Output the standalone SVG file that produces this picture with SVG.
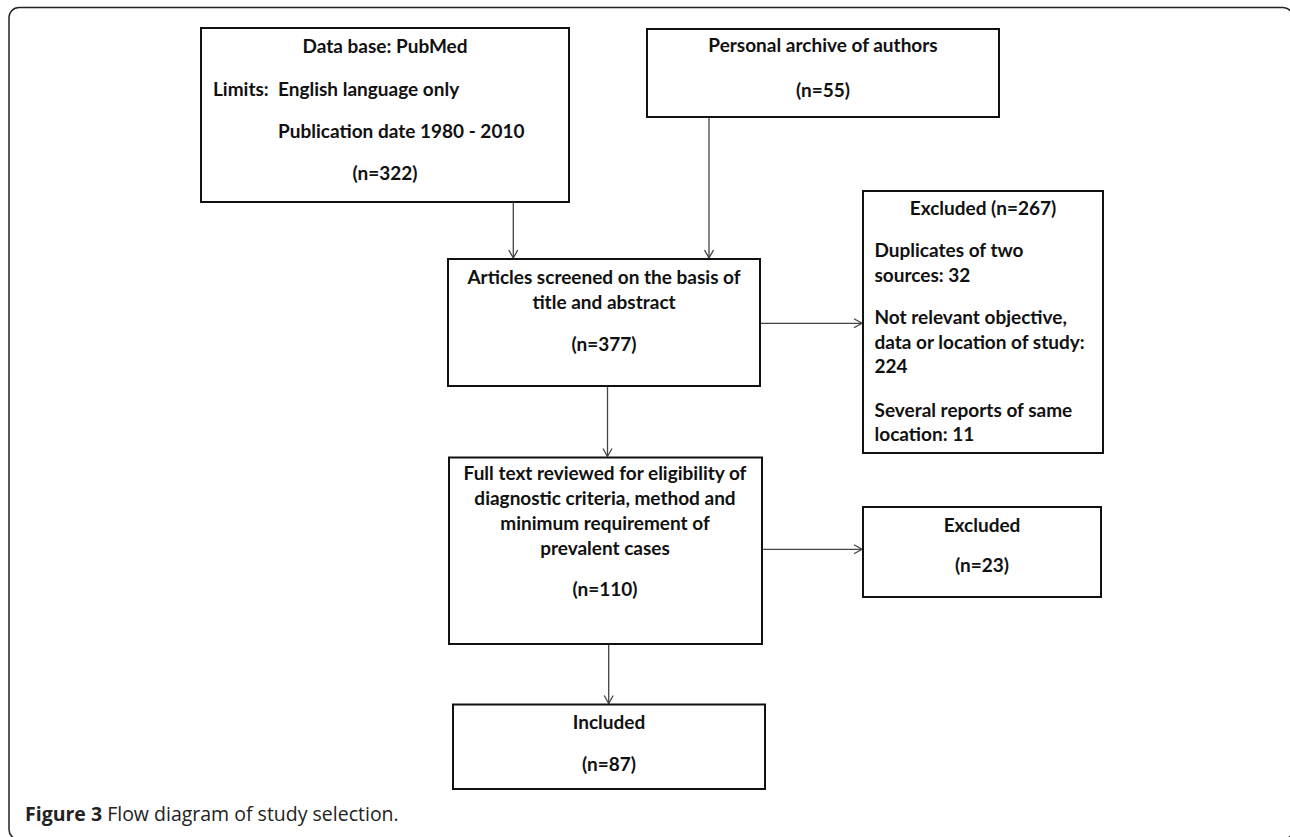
<svg xmlns="http://www.w3.org/2000/svg" width="1290" height="837" viewBox="0 0 1290 837">
<style>
.box{fill:#fff;stroke:#111;stroke-width:2}
.t{font-family:Lato,"Liberation Sans",sans-serif;font-weight:bold;font-size:19px;fill:#111}
.c{text-anchor:middle}
.conn{stroke:#444;stroke-width:1.3;fill:none;marker-end:url(#arr)}
.cap{font-family:"Open Sans","Liberation Sans",sans-serif;font-size:19.5px;fill:#222}
</style>
<defs>
<marker id="arr" markerWidth="12" markerHeight="12" refX="9" refY="5" orient="auto" markerUnits="userSpaceOnUse">
<path d="M1,0.5 L9,5 L1,9.5" fill="none" stroke="#444" stroke-width="1.3"/>
</marker>
</defs>
<rect x="0" y="0" width="1290" height="837" fill="#fff"/>
<rect x="9" y="7.5" width="1284" height="832" rx="10" fill="none" stroke="#222" stroke-width="1.5"/>

<g id="connectors">
<line class="conn" x1="513.3" y1="202" x2="513.3" y2="258"/>
<line class="conn" x1="709" y1="117" x2="709" y2="258"/>
<line class="conn" x1="760" y1="323.3" x2="862" y2="323.3"/>
<line class="conn" x1="607.5" y1="386" x2="607.5" y2="456.5"/>
<line class="conn" x1="762" y1="549.3" x2="862" y2="549.3"/>
<line class="conn" x1="608.7" y1="644" x2="608.7" y2="703.5"/>
</g>

<g id="pubmed">
<rect class="box" x="201" y="28" width="368" height="174"/>
<text class="t c" x="385" y="53">Data base: PubMed</text>
<text class="t" x="213" y="96">Limits:</text>
<text class="t" x="278" y="96">English language only</text>
<text class="t" x="278" y="138">Publication date 1980 - 2010</text>
<text class="t c" x="385" y="180">(n=322)</text>
</g>

<g id="archive">
<rect class="box" x="647" y="29" width="352" height="88"/>
<text class="t c" x="823" y="52">Personal archive of authors</text>
<text class="t c" x="823" y="97">(n=55)</text>
</g>

<g id="screened">
<rect class="box" x="448" y="259" width="312" height="127"/>
<text class="t c" x="604" y="284">Articles screened on the basis of</text>
<text class="t c" x="604" y="309">title and abstract</text>
<text class="t c" x="604" y="351">(n=377)</text>
</g>

<g id="excluded267">
<rect class="box" x="863" y="191" width="240" height="262"/>
<text class="t c" x="983" y="215">Excluded (n=267)</text>
<text class="t" x="874.5" y="257">Duplicates of two</text>
<text class="t" x="874.5" y="282">sources: 32</text>
<text class="t" x="874.5" y="324">Not relevant objective,</text>
<text class="t" x="874.5" y="349">data or location of study:</text>
<text class="t" x="874.5" y="373">224</text>
<text class="t" x="874.5" y="417">Several reports of same</text>
<text class="t" x="874.5" y="441">location: 11</text>
</g>

<g id="fulltext">
<rect class="box" x="449" y="457.5" width="313" height="186.5"/>
<text class="t c" x="605" y="480">Full text reviewed for eligibility of</text>
<text class="t c" x="605" y="505">diagnostic criteria, method and</text>
<text class="t c" x="605" y="530">minimum requirement of</text>
<text class="t c" x="605" y="555">prevalent cases</text>
<text class="t c" x="605" y="596">(n=110)</text>
</g>

<g id="excluded23">
<rect class="box" x="863" y="507" width="238" height="90"/>
<text class="t c" x="982" y="532">Excluded</text>
<text class="t c" x="982" y="572">(n=23)</text>
</g>

<g id="included">
<rect class="box" x="453" y="704.5" width="312" height="84.5"/>
<text class="t c" x="609" y="729">Included</text>
<text class="t c" x="609" y="771">(n=87)</text>
</g>

<text class="cap" x="25" y="821"><tspan font-weight="bold">Figure 3</tspan> Flow diagram of study selection.</text>
</svg>
